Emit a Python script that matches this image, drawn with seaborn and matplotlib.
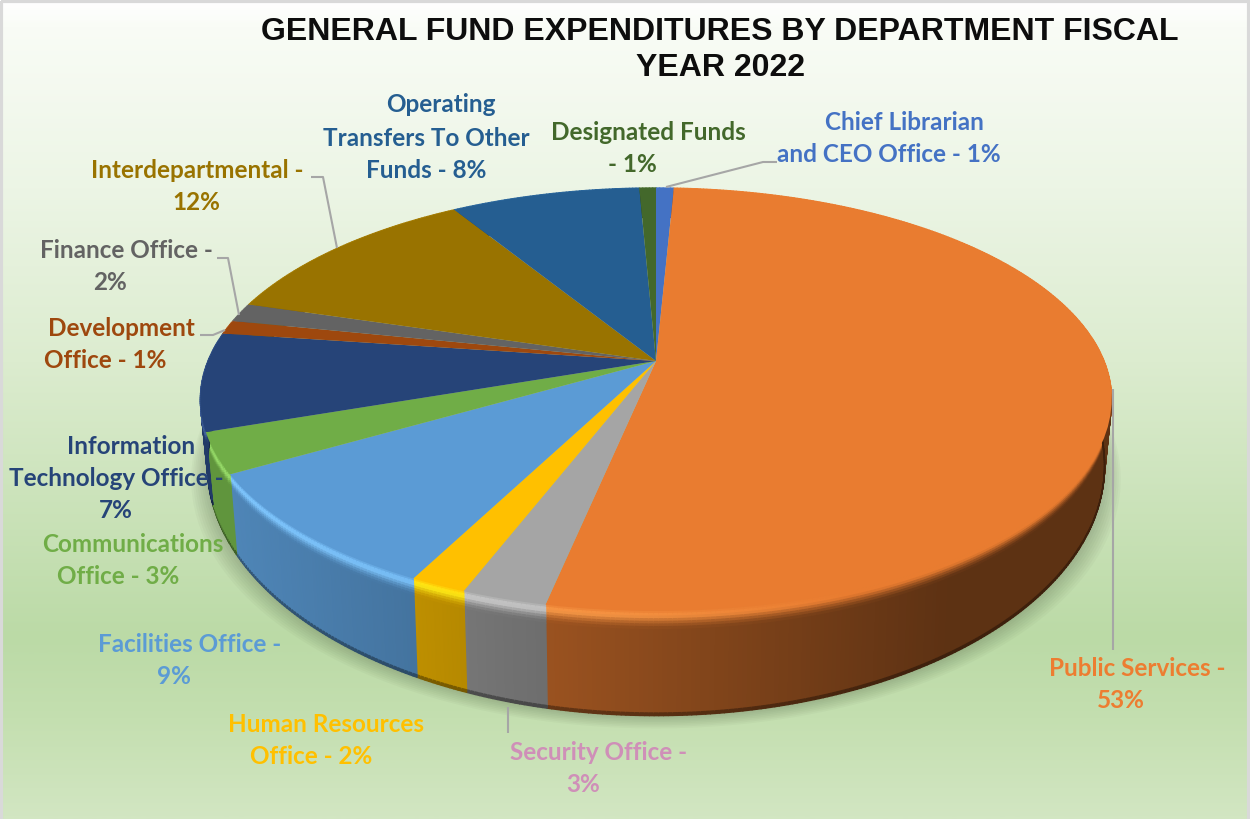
import numpy as np
import matplotlib
matplotlib.use('Agg')
import matplotlib.pyplot as plt
import seaborn as sns
from matplotlib.collections import PolyCollection
from matplotlib.colors import LinearSegmentedColormap, to_rgb
from matplotlib.patches import Polygon, Rectangle
from matplotlib.transforms import Transform

departments = ['Chief Librarian and CEO Office', 'Public Services', 'Security Office',
               'Human Resources Office', 'Facilities Office', 'Communications Office',
               'Information Technology Office', 'Development Office', 'Finance Office',
               'Interdepartmental', 'Operating Transfers To Other Funds', 'Designated Funds']
shares = [0.75, 52.5, 2.55, 1.7, 9.1, 3.1, 7.5, 1.05, 1.45, 11.6, 8.0, 0.7]
slice_colors = ['#4472C4', '#E97C30', '#A5A5A5', '#FFC000', '#5B9BD5', '#70AD47',
                '#264478', '#9E480E', '#636363', '#997300', '#255E91', '#43682B']
label_colors = ['#4472C4', '#ED7D31', '#CF8FB8', '#FFC000', '#5B9BD5', '#70AD47',
                '#264478', '#9E480E', '#636363', '#997300', '#255E91', '#43682B']
label_lines = [['Chief Librarian', 'and CEO Office - 1%'], ['Public Services -', '53%'],
               ['Security Office -', '3%'], ['Human Resources', 'Office - 2%'],
               ['Facilities Office -', '9%'], ['Communications', 'Office - 3%'],
               ['Information', 'Technology Office -', '7%'], ['Development', 'Office - 1%'],
               ['Finance Office -', '2%'], ['Interdepartmental -', '12%'],
               ['Operating', 'Transfers To Other', 'Funds - 8%'], ['Designated Funds', '- 1%']]
label_xy = [[(904, 122), (889, 155)], [(1137, 668), (1121, 700)],
            [(599, 752), (583, 784)], [(326, 725), (311, 757)],
            [(190, 645), (174, 677)], [(133, 545), (118, 577)],
            [(131, 446), (116, 479), (116, 511)], [(121, 328), (105, 360)],
            [(126, 251), (110, 283)], [(197, 170), (196, 202)],
            [(441, 105), (426, 138), (426, 170)], [(648, 132), (632, 164)]]
leaders = [[(777, 162), (763, 162), (666, 187)], [(1113, 389), (1113, 650)],
           [(508, 707), (508, 733)], [(217, 258), (228, 258), (239, 315)],
           [(200, 335), (213, 335), (225, 330)], [(311, 177), (323, 177), (337, 248)]]
title_lines = ['GENERAL FUND EXPENDITURES BY DEPARTMENT FISCAL', 'YEAR 2022']

sns.set_theme(style='white')
plt.rcParams['font.family'] = ['Lato', 'DejaVu Sans']

# top face and lower edge of the pie, both are a tilted circle seen in perspective
CX, CY = 657, 361
TOP = dict(a=448, s=204.5, k=0.182, cx=CX - 1, cy=CY)
BOTTOM = dict(a=441, s=241, k=0.182, cx=CX - 1, cy=421)


def project(x, y, a, s, k, cx, cy):
    w = 1 + k * y
    return cx + a * x / w, cy - s * y / w


class TiltTransform(Transform):
    input_dims = output_dims = 2

    def transform_non_affine(self, values):
        values = np.asarray(values)
        px, py = project(values[:, 0], values[:, 1], **TOP)
        return np.column_stack([px, py])


fig = plt.figure(figsize=(12.5, 8.19), dpi=100)
ax = fig.add_axes([0, 0, 1, 1])

wedges, _ = ax.pie(shares, colors=sns.color_palette(slice_colors), startangle=90,
                   counterclock=False, wedgeprops=dict(linewidth=0))
ax.set_aspect('auto')
ax.set_xlim(0, 1250)
ax.set_ylim(819, 0)
ax.axis('off')

# background
stops = [(0.0, '#FFFFFF'), (0.03, '#F9FCF6'), (0.23, '#ECF5E5'), (0.44, '#DCECCF'),
         (0.78, '#BBDAA6'), (0.88, '#C4DFB0'), (1.0, '#D2E6C2')]
cmap = LinearSegmentedColormap.from_list('bg', stops)
ax.imshow(np.linspace(0, 1, 400)[:, None], cmap=cmap, aspect='auto',
          extent=(0, 1250, 819, 0), zorder=0, vmin=0, vmax=1)
ax.add_patch(Rectangle((1, 1), 1248, 830, fill=False, ec='#D9D9D9', lw=3, zorder=0.5))

# soft shadow under the pie
theta = np.radians(np.linspace(0, 360, 361))
for grow in np.linspace(16, 2, 8):
    sx, sy = project(np.cos(theta), np.sin(theta), **BOTTOM)
    sx = CX + (sx - CX) * (1 + grow / 440)
    sy = sy + grow * 0.8
    ax.add_patch(Polygon(np.column_stack([sx, sy]), closed=True, fc='#3C4A30',
                         alpha=0.035, lw=0, zorder=1))

# side wall with bevel on the rim
t_stops = np.array([0, 0.025, 0.05, 0.075, 0.1, 0.125, 0.15, 0.18, 0.975, 1.0])
glow_steps = [0.4, 0.9, 1.0, 0.7, 0.35, 0.12, 0.0, 0.0, 0.0]
wall_steps = [0.0, 0.0, 0.1, 0.35, 0.6, 0.8, 0.95, 1.0, 1.0]
quads, quad_colors = [], []
for wedge, col in zip(wedges, slice_colors):
    n = max(int(abs(wedge.theta2 - wedge.theta1) * 2), 2)
    th = np.radians(np.linspace(wedge.theta1, wedge.theta2, n + 1))
    x1, y1 = project(np.cos(th), np.sin(th), **TOP)
    x2, y2 = project(np.cos(th), np.sin(th), **BOTTOM)
    for i in range(n):
        xm = (x1[i] + x1[i + 1]) / 2
        body = np.interp(xm, [230, 550, 950], [0.86, 0.66, 0.40])
        glow = np.interp(xm, [230, 600, 850], [1.0, 0.6, 0.0])
        base = np.array(to_rgb(col))
        lit = np.clip(base * 1.12 + 0.1, 0, 1)
        wall = base * body
        for j in range(len(t_stops) - 1):
            t0, t1 = t_stops[j], t_stops[j + 1]
            c = (1 - wall_steps[j]) * base + wall_steps[j] * wall + glow * glow_steps[j] * (lit - base)
            if j == len(t_stops) - 2:
                c = wall * 0.65
            quads.append([(x1[i] + t0 * (x2[i] - x1[i]), y1[i] + t0 * (y2[i] - y1[i])),
                          (x1[i + 1] + t0 * (x2[i + 1] - x1[i + 1]), y1[i + 1] + t0 * (y2[i + 1] - y1[i + 1])),
                          (x1[i + 1] + t1 * (x2[i + 1] - x1[i + 1]), y1[i + 1] + t1 * (y2[i + 1] - y1[i + 1])),
                          (x1[i] + t1 * (x2[i] - x1[i]), y1[i] + t1 * (y2[i] - y1[i]))])
            quad_colors.append(np.clip(c, 0, 1))
ax.add_collection(PolyCollection(quads, facecolors=quad_colors, edgecolors=quad_colors,
                                 linewidths=1.0, zorder=2), autolim=False)

# top face
tilt = TiltTransform()
for wedge in wedges:
    wedge.set_transform(tilt + ax.transData)
    wedge.set_zorder(3)
    wedge.set_clip_on(False)

for pts in leaders:
    xs, ys = zip(*pts)
    ax.plot(xs, ys, color='#A6A6A6', lw=1.5, zorder=4, solid_capstyle='butt')

for lines, spots, col in zip(label_lines, label_xy, label_colors):
    for line, (x, y) in zip(lines, spots):
        ax.text(x, y, line, color=col, fontsize=17.5, fontweight='bold',
                ha='center', va='center', zorder=5)

for line, y in zip(title_lines, [32, 68]):
    ax.text(720, y, line, color='#0D0D0D', fontsize=23, fontweight='bold',
            family=['Liberation Sans', 'DejaVu Sans'], ha='center', va='center', zorder=5)

plt.savefig('out.png', dpi=100)
